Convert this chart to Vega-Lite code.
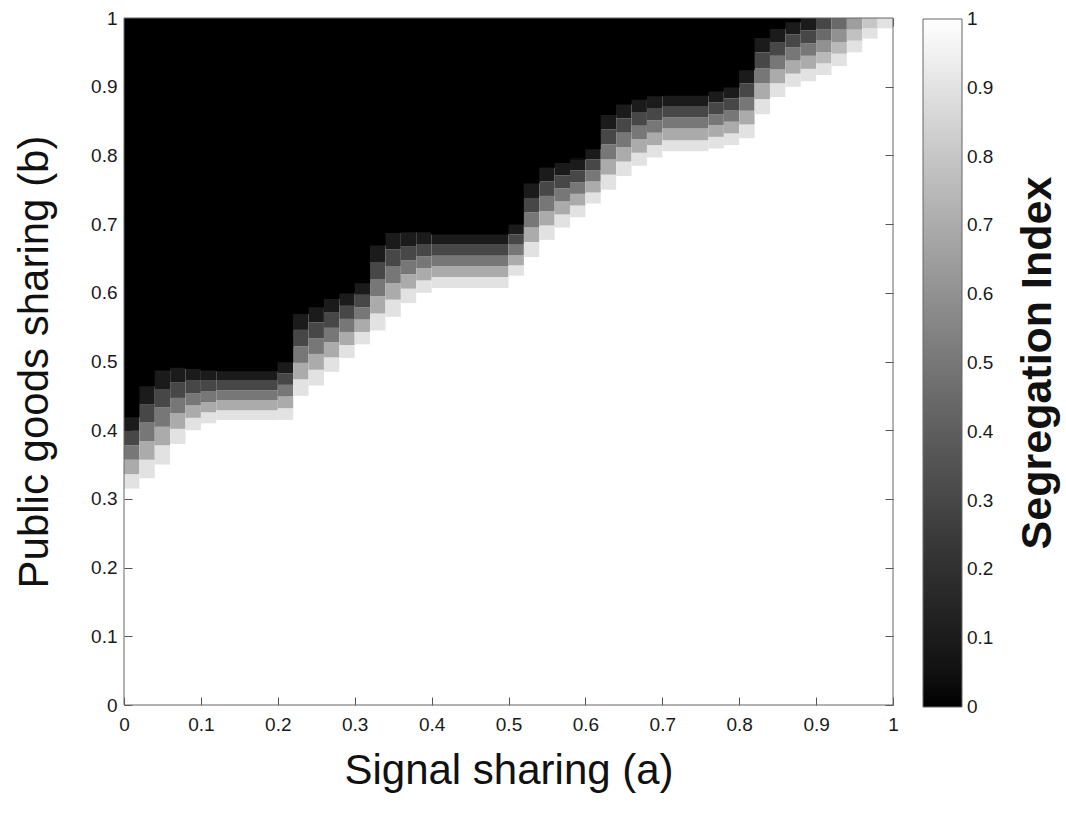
{
  "$schema": "https://vega.github.io/schema/vega-lite/v6.json",
  "width": 769,
  "height": 687,
  "autosize": {"type": "none"},
  "padding": {"left": 124, "top": 18, "right": 173, "bottom": 117},
  "background": "white",
  "config": {
    "view": {"stroke": null},
    "font": "Liberation Sans",
    "axis": {
      "domain": false,
      "grid": false,
      "tickSize": -8,
      "tickColor": "#555555",
      "tickWidth": 1,
      "labelFont": "Liberation Sans",
      "labelFontSize": 19,
      "labelColor": "#1a1a1a",
      "labelFlush": false,
      "labelOverlap": false,
      "titleFont": "Liberation Sans",
      "titleFontSize": 42,
      "titleFontWeight": "normal",
      "titleColor": "#111111",
      "zindex": 0
    }
  },
  "layer": [
    {
      "data": {
        "values": [
          {"a":0,"a2":0.02,"b":0.315,"b2":0.336,"v":0.9},{"a":0,"a2":0.02,"b":0.336,"b2":0.357,"v":0.7},{"a":0,"a2":0.02,"b":0.357,"b2":0.378,"v":0.5},{"a":0,"a2":0.02,"b":0.378,"b2":0.399,"v":0.3},{"a":0,"a2":0.02,"b":0.399,"b2":0.42,"v":0.1},{"a":0,"a2":0.02,"b":0.42,"b2":1,"v":0},
          {"a":0.02,"a2":0.04,"b":0.33,"b2":0.357,"v":0.9},{"a":0.02,"a2":0.04,"b":0.357,"b2":0.384,"v":0.7},{"a":0.02,"a2":0.04,"b":0.384,"b2":0.411,"v":0.5},{"a":0.02,"a2":0.04,"b":0.411,"b2":0.438,"v":0.3},{"a":0.02,"a2":0.04,"b":0.438,"b2":0.465,"v":0.1},{"a":0.02,"a2":0.04,"b":0.465,"b2":1,"v":0},
          {"a":0.04,"a2":0.06,"b":0.35,"b2":0.378,"v":0.9},{"a":0.04,"a2":0.06,"b":0.378,"b2":0.405,"v":0.7},{"a":0.04,"a2":0.06,"b":0.405,"b2":0.433,"v":0.5},{"a":0.04,"a2":0.06,"b":0.433,"b2":0.46,"v":0.3},{"a":0.04,"a2":0.06,"b":0.46,"b2":0.488,"v":0.1},{"a":0.04,"a2":0.06,"b":0.488,"b2":1,"v":0},
          {"a":0.06,"a2":0.08,"b":0.38,"b2":0.402,"v":0.9},{"a":0.06,"a2":0.08,"b":0.402,"b2":0.425,"v":0.7},{"a":0.06,"a2":0.08,"b":0.425,"b2":0.447,"v":0.5},{"a":0.06,"a2":0.08,"b":0.447,"b2":0.47,"v":0.3},{"a":0.06,"a2":0.08,"b":0.47,"b2":0.492,"v":0.1},{"a":0.06,"a2":0.08,"b":0.492,"b2":1,"v":0},
          {"a":0.08,"a2":0.1,"b":0.4,"b2":0.418,"v":0.9},{"a":0.08,"a2":0.1,"b":0.418,"b2":0.436,"v":0.7},{"a":0.08,"a2":0.1,"b":0.436,"b2":0.454,"v":0.5},{"a":0.08,"a2":0.1,"b":0.454,"b2":0.472,"v":0.3},{"a":0.08,"a2":0.1,"b":0.472,"b2":0.49,"v":0.1},{"a":0.08,"a2":0.1,"b":0.49,"b2":1,"v":0},
          {"a":0.1,"a2":0.12,"b":0.41,"b2":0.426,"v":0.9},{"a":0.1,"a2":0.12,"b":0.426,"b2":0.441,"v":0.7},{"a":0.1,"a2":0.12,"b":0.441,"b2":0.457,"v":0.5},{"a":0.1,"a2":0.12,"b":0.457,"b2":0.472,"v":0.3},{"a":0.1,"a2":0.12,"b":0.472,"b2":0.488,"v":0.1},{"a":0.1,"a2":0.12,"b":0.488,"b2":1,"v":0},
          {"a":0.12,"a2":0.2,"b":0.415,"b2":0.429,"v":0.9},{"a":0.12,"a2":0.2,"b":0.429,"b2":0.444,"v":0.7},{"a":0.12,"a2":0.2,"b":0.444,"b2":0.458,"v":0.5},{"a":0.12,"a2":0.2,"b":0.458,"b2":0.473,"v":0.3},{"a":0.12,"a2":0.2,"b":0.473,"b2":0.487,"v":0.1},{"a":0.12,"a2":0.2,"b":0.487,"b2":1,"v":0},
          {"a":0.2,"a2":0.22,"b":0.415,"b2":0.432,"v":0.9},{"a":0.2,"a2":0.22,"b":0.432,"b2":0.449,"v":0.7},{"a":0.2,"a2":0.22,"b":0.449,"b2":0.466,"v":0.5},{"a":0.2,"a2":0.22,"b":0.466,"b2":0.483,"v":0.3},{"a":0.2,"a2":0.22,"b":0.483,"b2":0.5,"v":0.1},{"a":0.2,"a2":0.22,"b":0.5,"b2":1,"v":0},
          {"a":0.22,"a2":0.24,"b":0.45,"b2":0.474,"v":0.9},{"a":0.22,"a2":0.24,"b":0.474,"b2":0.498,"v":0.7},{"a":0.22,"a2":0.24,"b":0.498,"b2":0.522,"v":0.5},{"a":0.22,"a2":0.24,"b":0.522,"b2":0.546,"v":0.3},{"a":0.22,"a2":0.24,"b":0.546,"b2":0.57,"v":0.1},{"a":0.22,"a2":0.24,"b":0.57,"b2":1,"v":0},
          {"a":0.24,"a2":0.26,"b":0.465,"b2":0.488,"v":0.9},{"a":0.24,"a2":0.26,"b":0.488,"b2":0.511,"v":0.7},{"a":0.24,"a2":0.26,"b":0.511,"b2":0.534,"v":0.5},{"a":0.24,"a2":0.26,"b":0.534,"b2":0.557,"v":0.3},{"a":0.24,"a2":0.26,"b":0.557,"b2":0.58,"v":0.1},{"a":0.24,"a2":0.26,"b":0.58,"b2":1,"v":0},
          {"a":0.26,"a2":0.28,"b":0.485,"b2":0.506,"v":0.9},{"a":0.26,"a2":0.28,"b":0.506,"b2":0.528,"v":0.7},{"a":0.26,"a2":0.28,"b":0.528,"b2":0.549,"v":0.5},{"a":0.26,"a2":0.28,"b":0.549,"b2":0.571,"v":0.3},{"a":0.26,"a2":0.28,"b":0.571,"b2":0.592,"v":0.1},{"a":0.26,"a2":0.28,"b":0.592,"b2":1,"v":0},
          {"a":0.28,"a2":0.3,"b":0.505,"b2":0.524,"v":0.9},{"a":0.28,"a2":0.3,"b":0.524,"b2":0.543,"v":0.7},{"a":0.28,"a2":0.3,"b":0.543,"b2":0.562,"v":0.5},{"a":0.28,"a2":0.3,"b":0.562,"b2":0.581,"v":0.3},{"a":0.28,"a2":0.3,"b":0.581,"b2":0.6,"v":0.1},{"a":0.28,"a2":0.3,"b":0.6,"b2":1,"v":0},
          {"a":0.3,"a2":0.32,"b":0.525,"b2":0.543,"v":0.9},{"a":0.3,"a2":0.32,"b":0.543,"b2":0.561,"v":0.7},{"a":0.3,"a2":0.32,"b":0.561,"b2":0.579,"v":0.5},{"a":0.3,"a2":0.32,"b":0.579,"b2":0.597,"v":0.3},{"a":0.3,"a2":0.32,"b":0.597,"b2":0.615,"v":0.1},{"a":0.3,"a2":0.32,"b":0.615,"b2":1,"v":0},
          {"a":0.32,"a2":0.34,"b":0.545,"b2":0.57,"v":0.9},{"a":0.32,"a2":0.34,"b":0.57,"b2":0.595,"v":0.7},{"a":0.32,"a2":0.34,"b":0.595,"b2":0.62,"v":0.5},{"a":0.32,"a2":0.34,"b":0.62,"b2":0.645,"v":0.3},{"a":0.32,"a2":0.34,"b":0.645,"b2":0.67,"v":0.1},{"a":0.32,"a2":0.34,"b":0.67,"b2":1,"v":0},
          {"a":0.34,"a2":0.36,"b":0.565,"b2":0.59,"v":0.9},{"a":0.34,"a2":0.36,"b":0.59,"b2":0.614,"v":0.7},{"a":0.34,"a2":0.36,"b":0.614,"b2":0.639,"v":0.5},{"a":0.34,"a2":0.36,"b":0.639,"b2":0.663,"v":0.3},{"a":0.34,"a2":0.36,"b":0.663,"b2":0.688,"v":0.1},{"a":0.34,"a2":0.36,"b":0.688,"b2":1,"v":0},
          {"a":0.36,"a2":0.38,"b":0.585,"b2":0.606,"v":0.9},{"a":0.36,"a2":0.38,"b":0.606,"b2":0.627,"v":0.7},{"a":0.36,"a2":0.38,"b":0.627,"b2":0.647,"v":0.5},{"a":0.36,"a2":0.38,"b":0.647,"b2":0.668,"v":0.3},{"a":0.36,"a2":0.38,"b":0.668,"b2":0.689,"v":0.1},{"a":0.36,"a2":0.38,"b":0.689,"b2":1,"v":0},
          {"a":0.38,"a2":0.4,"b":0.6,"b2":0.618,"v":0.9},{"a":0.38,"a2":0.4,"b":0.618,"b2":0.636,"v":0.7},{"a":0.38,"a2":0.4,"b":0.636,"b2":0.653,"v":0.5},{"a":0.38,"a2":0.4,"b":0.653,"b2":0.671,"v":0.3},{"a":0.38,"a2":0.4,"b":0.671,"b2":0.689,"v":0.1},{"a":0.38,"a2":0.4,"b":0.689,"b2":1,"v":0},
          {"a":0.4,"a2":0.5,"b":0.607,"b2":0.623,"v":0.9},{"a":0.4,"a2":0.5,"b":0.623,"b2":0.639,"v":0.7},{"a":0.4,"a2":0.5,"b":0.639,"b2":0.654,"v":0.5},{"a":0.4,"a2":0.5,"b":0.654,"b2":0.67,"v":0.3},{"a":0.4,"a2":0.5,"b":0.67,"b2":0.686,"v":0.1},{"a":0.4,"a2":0.5,"b":0.686,"b2":1,"v":0},
          {"a":0.5,"a2":0.52,"b":0.625,"b2":0.64,"v":0.9},{"a":0.5,"a2":0.52,"b":0.64,"b2":0.655,"v":0.7},{"a":0.5,"a2":0.52,"b":0.655,"b2":0.67,"v":0.5},{"a":0.5,"a2":0.52,"b":0.67,"b2":0.685,"v":0.3},{"a":0.5,"a2":0.52,"b":0.685,"b2":0.7,"v":0.1},{"a":0.5,"a2":0.52,"b":0.7,"b2":1,"v":0},
          {"a":0.52,"a2":0.54,"b":0.652,"b2":0.674,"v":0.9},{"a":0.52,"a2":0.54,"b":0.674,"b2":0.695,"v":0.7},{"a":0.52,"a2":0.54,"b":0.695,"b2":0.717,"v":0.5},{"a":0.52,"a2":0.54,"b":0.717,"b2":0.738,"v":0.3},{"a":0.52,"a2":0.54,"b":0.738,"b2":0.76,"v":0.1},{"a":0.52,"a2":0.54,"b":0.76,"b2":1,"v":0},
          {"a":0.54,"a2":0.56,"b":0.677,"b2":0.698,"v":0.9},{"a":0.54,"a2":0.56,"b":0.698,"b2":0.719,"v":0.7},{"a":0.54,"a2":0.56,"b":0.719,"b2":0.741,"v":0.5},{"a":0.54,"a2":0.56,"b":0.741,"b2":0.762,"v":0.3},{"a":0.54,"a2":0.56,"b":0.762,"b2":0.783,"v":0.1},{"a":0.54,"a2":0.56,"b":0.783,"b2":1,"v":0},
          {"a":0.56,"a2":0.58,"b":0.695,"b2":0.714,"v":0.9},{"a":0.56,"a2":0.58,"b":0.714,"b2":0.733,"v":0.7},{"a":0.56,"a2":0.58,"b":0.733,"b2":0.752,"v":0.5},{"a":0.56,"a2":0.58,"b":0.752,"b2":0.771,"v":0.3},{"a":0.56,"a2":0.58,"b":0.771,"b2":0.79,"v":0.1},{"a":0.56,"a2":0.58,"b":0.79,"b2":1,"v":0},
          {"a":0.58,"a2":0.6,"b":0.71,"b2":0.727,"v":0.9},{"a":0.58,"a2":0.6,"b":0.727,"b2":0.744,"v":0.7},{"a":0.58,"a2":0.6,"b":0.744,"b2":0.761,"v":0.5},{"a":0.58,"a2":0.6,"b":0.761,"b2":0.778,"v":0.3},{"a":0.58,"a2":0.6,"b":0.778,"b2":0.795,"v":0.1},{"a":0.58,"a2":0.6,"b":0.795,"b2":1,"v":0},
          {"a":0.6,"a2":0.62,"b":0.73,"b2":0.746,"v":0.9},{"a":0.6,"a2":0.62,"b":0.746,"b2":0.762,"v":0.7},{"a":0.6,"a2":0.62,"b":0.762,"b2":0.778,"v":0.5},{"a":0.6,"a2":0.62,"b":0.778,"b2":0.794,"v":0.3},{"a":0.6,"a2":0.62,"b":0.794,"b2":0.81,"v":0.1},{"a":0.6,"a2":0.62,"b":0.81,"b2":1,"v":0},
          {"a":0.62,"a2":0.64,"b":0.75,"b2":0.772,"v":0.9},{"a":0.62,"a2":0.64,"b":0.772,"b2":0.794,"v":0.7},{"a":0.62,"a2":0.64,"b":0.794,"b2":0.816,"v":0.5},{"a":0.62,"a2":0.64,"b":0.816,"b2":0.838,"v":0.3},{"a":0.62,"a2":0.64,"b":0.838,"b2":0.86,"v":0.1},{"a":0.62,"a2":0.64,"b":0.86,"b2":1,"v":0},
          {"a":0.64,"a2":0.66,"b":0.77,"b2":0.791,"v":0.9},{"a":0.64,"a2":0.66,"b":0.791,"b2":0.812,"v":0.7},{"a":0.64,"a2":0.66,"b":0.812,"b2":0.833,"v":0.5},{"a":0.64,"a2":0.66,"b":0.833,"b2":0.854,"v":0.3},{"a":0.64,"a2":0.66,"b":0.854,"b2":0.875,"v":0.1},{"a":0.64,"a2":0.66,"b":0.875,"b2":1,"v":0},
          {"a":0.66,"a2":0.68,"b":0.785,"b2":0.804,"v":0.9},{"a":0.66,"a2":0.68,"b":0.804,"b2":0.824,"v":0.7},{"a":0.66,"a2":0.68,"b":0.824,"b2":0.843,"v":0.5},{"a":0.66,"a2":0.68,"b":0.843,"b2":0.863,"v":0.3},{"a":0.66,"a2":0.68,"b":0.863,"b2":0.882,"v":0.1},{"a":0.66,"a2":0.68,"b":0.882,"b2":1,"v":0},
          {"a":0.68,"a2":0.7,"b":0.797,"b2":0.815,"v":0.9},{"a":0.68,"a2":0.7,"b":0.815,"b2":0.833,"v":0.7},{"a":0.68,"a2":0.7,"b":0.833,"b2":0.851,"v":0.5},{"a":0.68,"a2":0.7,"b":0.851,"b2":0.869,"v":0.3},{"a":0.68,"a2":0.7,"b":0.869,"b2":0.887,"v":0.1},{"a":0.68,"a2":0.7,"b":0.887,"b2":1,"v":0},
          {"a":0.7,"a2":0.76,"b":0.806,"b2":0.822,"v":0.9},{"a":0.7,"a2":0.76,"b":0.822,"b2":0.839,"v":0.7},{"a":0.7,"a2":0.76,"b":0.839,"b2":0.855,"v":0.5},{"a":0.7,"a2":0.76,"b":0.855,"b2":0.872,"v":0.3},{"a":0.7,"a2":0.76,"b":0.872,"b2":0.888,"v":0.1},{"a":0.7,"a2":0.76,"b":0.888,"b2":1,"v":0},
          {"a":0.76,"a2":0.78,"b":0.81,"b2":0.827,"v":0.9},{"a":0.76,"a2":0.78,"b":0.827,"b2":0.844,"v":0.7},{"a":0.76,"a2":0.78,"b":0.844,"b2":0.86,"v":0.5},{"a":0.76,"a2":0.78,"b":0.86,"b2":0.877,"v":0.3},{"a":0.76,"a2":0.78,"b":0.877,"b2":0.894,"v":0.1},{"a":0.76,"a2":0.78,"b":0.894,"b2":1,"v":0},
          {"a":0.78,"a2":0.8,"b":0.815,"b2":0.832,"v":0.9},{"a":0.78,"a2":0.8,"b":0.832,"b2":0.849,"v":0.7},{"a":0.78,"a2":0.8,"b":0.849,"b2":0.866,"v":0.5},{"a":0.78,"a2":0.8,"b":0.866,"b2":0.883,"v":0.3},{"a":0.78,"a2":0.8,"b":0.883,"b2":0.9,"v":0.1},{"a":0.78,"a2":0.8,"b":0.9,"b2":1,"v":0},
          {"a":0.8,"a2":0.82,"b":0.825,"b2":0.845,"v":0.9},{"a":0.8,"a2":0.82,"b":0.845,"b2":0.865,"v":0.7},{"a":0.8,"a2":0.82,"b":0.865,"b2":0.885,"v":0.5},{"a":0.8,"a2":0.82,"b":0.885,"b2":0.905,"v":0.3},{"a":0.8,"a2":0.82,"b":0.905,"b2":0.925,"v":0.1},{"a":0.8,"a2":0.82,"b":0.925,"b2":1,"v":0},
          {"a":0.82,"a2":0.84,"b":0.86,"b2":0.882,"v":0.9},{"a":0.82,"a2":0.84,"b":0.882,"b2":0.905,"v":0.7},{"a":0.82,"a2":0.84,"b":0.905,"b2":0.927,"v":0.5},{"a":0.82,"a2":0.84,"b":0.927,"b2":0.95,"v":0.3},{"a":0.82,"a2":0.84,"b":0.95,"b2":0.972,"v":0.1},{"a":0.82,"a2":0.84,"b":0.972,"b2":1,"v":0},
          {"a":0.84,"a2":0.86,"b":0.885,"b2":0.905,"v":0.9},{"a":0.84,"a2":0.86,"b":0.905,"b2":0.925,"v":0.7},{"a":0.84,"a2":0.86,"b":0.925,"b2":0.945,"v":0.5},{"a":0.84,"a2":0.86,"b":0.945,"b2":0.965,"v":0.3},{"a":0.84,"a2":0.86,"b":0.965,"b2":0.985,"v":0.1},{"a":0.84,"a2":0.86,"b":0.985,"b2":1,"v":0},
          {"a":0.86,"a2":0.88,"b":0.9,"b2":0.919,"v":0.9},{"a":0.86,"a2":0.88,"b":0.919,"b2":0.938,"v":0.7},{"a":0.86,"a2":0.88,"b":0.938,"b2":0.957,"v":0.5},{"a":0.86,"a2":0.88,"b":0.957,"b2":0.976,"v":0.3},{"a":0.86,"a2":0.88,"b":0.976,"b2":0.995,"v":0.1},{"a":0.86,"a2":0.88,"b":0.995,"b2":1,"v":0},
          {"a":0.88,"a2":0.9,"b":0.908,"b2":0.926,"v":0.9},{"a":0.88,"a2":0.9,"b":0.926,"b2":0.945,"v":0.7},{"a":0.88,"a2":0.9,"b":0.945,"b2":0.963,"v":0.5},{"a":0.88,"a2":0.9,"b":0.963,"b2":0.982,"v":0.3},{"a":0.88,"a2":0.9,"b":0.982,"b2":1,"v":0.1},
          {"a":0.9,"a2":0.92,"b":0.917,"b2":0.934,"v":0.9},{"a":0.9,"a2":0.92,"b":0.934,"b2":0.95,"v":0.75},{"a":0.9,"a2":0.92,"b":0.95,"b2":0.967,"v":0.6},{"a":0.9,"a2":0.92,"b":0.967,"b2":0.983,"v":0.45},{"a":0.9,"a2":0.92,"b":0.983,"b2":1,"v":0.3},
          {"a":0.92,"a2":0.94,"b":0.93,"b2":0.948,"v":0.9},{"a":0.92,"a2":0.94,"b":0.948,"b2":0.965,"v":0.75},{"a":0.92,"a2":0.94,"b":0.965,"b2":0.983,"v":0.6},{"a":0.92,"a2":0.94,"b":0.983,"b2":1,"v":0.45},
          {"a":0.94,"a2":0.96,"b":0.95,"b2":0.967,"v":0.9},{"a":0.94,"a2":0.96,"b":0.967,"b2":0.983,"v":0.78},{"a":0.94,"a2":0.96,"b":0.983,"b2":1,"v":0.65},
          {"a":0.96,"a2":0.98,"b":0.97,"b2":0.985,"v":0.9},{"a":0.96,"a2":0.98,"b":0.985,"b2":1,"v":0.8},
          {"a":0.98,"a2":1,"b":0.985,"b2":1,"v":0.9}
        ]
      },
      "mark": {"type": "rect", "clip": true, "strokeWidth": 1.4},
      "encoding": {
        "x": {
          "field": "a",
          "type": "quantitative",
          "scale": {"domain": [0, 1], "nice": false, "zero": false},
          "axis": {
            "orient": "bottom",
            "title": "Signal sharing (a)",
            "values": [0, 0.1, 0.2, 0.3, 0.4, 0.5, 0.6, 0.7, 0.8, 0.9, 1],
            "format": "~g",
            "labelPadding": 18,
            "titlePadding": 16
          }
        },
        "x2": {"field": "a2"},
        "y": {
          "field": "b",
          "type": "quantitative",
          "scale": {"domain": [0, 1], "nice": false, "zero": false},
          "axis": {
            "orient": "left",
            "title": "Public goods sharing (b)",
            "values": [0, 0.1, 0.2, 0.3, 0.4, 0.5, 0.6, 0.7, 0.8, 0.9, 1],
            "format": "~g",
            "labelPadding": 15,
            "titlePadding": 34
          }
        },
        "y2": {"field": "b2"},
        "fill": {
          "field": "v",
          "type": "quantitative",
          "scale": {"domain": [0, 1], "range": ["#000000", "#ffffff"]},
          "legend": {
            "type": "gradient",
            "orient": "none",
            "legendX": 799,
            "legendY": 1,
            "direction": "vertical",
            "gradientLength": 688,
            "gradientThickness": 39,
            "gradientStrokeColor": "#666666",
            "gradientStrokeWidth": 1,
            "values": [0, 0.1, 0.2, 0.3, 0.4, 0.5, 0.6, 0.7, 0.8, 0.9, 1],
            "format": "~g",
            "labelFont": "Liberation Sans",
            "labelFontSize": 19,
            "labelColor": "#1a1a1a",
            "labelOffset": 5,
            "labelOverlap": false,
            "title": "Segregation Index",
            "titleOrient": "right",
            "titleAnchor": "middle",
            "titleLimit": 2000,
            "titleFont": "Liberation Sans",
            "titleFontSize": 43,
            "titleFontWeight": "bold",
            "titleColor": "#111111",
            "titlePadding": 24,
            "encode": {
              "labels": {"update": {"baseline": {"value": "middle"}}},
              "title": {"update": {"angle": {"value": 270}, "baseline": {"value": "top"}, "align": {"value": "center"}}}
            }
          }
        },
        "stroke": {
          "condition": {"test": "datum.v == 0", "value": "#000000"},
          "value": null
        }
      }
    },
    {
      "data": {"values": [{"lo": 0, "hi": 1}]},
      "mark": {"type": "rect", "filled": false, "stroke": "#666666", "strokeWidth": 1},
      "encoding": {
        "x": {
          "field": "lo",
          "type": "quantitative",
          "axis": {"orient": "top", "labels": false, "title": null, "values": [0, 0.1, 0.2, 0.3, 0.4, 0.5, 0.6, 0.7, 0.8, 0.9, 1]}
        },
        "x2": {"field": "hi"},
        "y": {
          "field": "lo",
          "type": "quantitative",
          "axis": {"orient": "right", "labels": false, "title": null, "values": [0, 0.1, 0.2, 0.3, 0.4, 0.5, 0.6, 0.7, 0.8, 0.9, 1]}
        },
        "y2": {"field": "hi"}
      }
    }
  ],
  "resolve": {"axis": {"x": "independent", "y": "independent"}}
}
